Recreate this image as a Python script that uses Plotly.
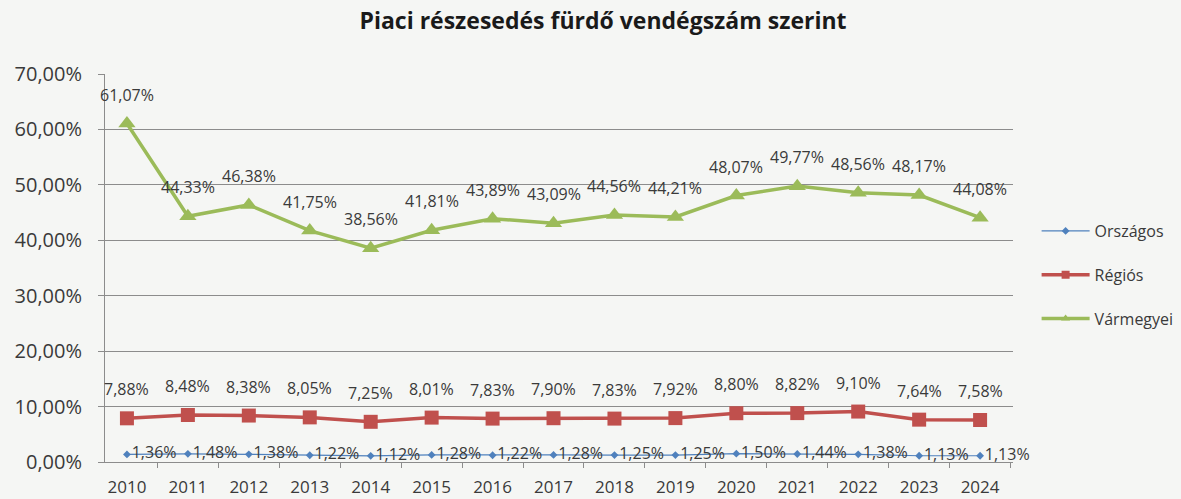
import plotly.graph_objects as go

years = ["2010", "2011", "2012", "2013", "2014", "2015", "2016", "2017",
         "2018", "2019", "2020", "2021", "2022", "2023", "2024"]
orszagos = [1.36, 1.48, 1.38, 1.22, 1.12, 1.28, 1.22, 1.28, 1.25, 1.25, 1.50, 1.44, 1.38, 1.13, 1.13]
regios = [7.88, 8.48, 8.38, 8.05, 7.25, 8.01, 7.83, 7.90, 7.83, 7.92, 8.80, 8.82, 9.10, 7.64, 7.58]
varmegyei = [61.07, 44.33, 46.38, 41.75, 38.56, 41.81, 43.89, 43.09, 44.56, 44.21, 48.07, 49.77, 48.56, 48.17, 44.08]
series_names = ["Országos", "Régiós", "Vármegyei"]

FONT = "'Open Sans', Lato, sans-serif"
TXT = "#3a3a3a"
BG = "#f5f6f4"
C_ORSZ = "#4f81bd"
C_REG = "#c0504d"
C_VAR = "#9bbb59"


def lab(vals):
    return [f"{v:.2f}%".replace(".", ",") for v in vals]


fig = go.Figure()
fig.add_trace(go.Scatter(
    x=years, y=[v / 100 for v in orszagos], name=series_names[0], showlegend=False,
    mode="lines+markers+text", text=lab(orszagos), textposition="middle right",
    textfont=dict(size=16, color=TXT, family=FONT),
    line=dict(color=C_ORSZ, width=1.2),
    marker=dict(symbol="diamond", size=6, color=C_ORSZ),
    cliponaxis=False, hoverinfo="skip",
))
fig.add_trace(go.Scatter(
    x=years, y=[v / 100 for v in regios], name=series_names[1], showlegend=False,
    mode="lines+markers",
    line=dict(color=C_REG, width=3.5),
    marker=dict(symbol="square", size=14, color=C_REG),
    cliponaxis=False, hoverinfo="skip",
))
fig.add_trace(go.Scatter(
    x=years, y=[v / 100 for v in varmegyei], name=series_names[2], showlegend=False,
    mode="lines+markers",
    line=dict(color=C_VAR, width=3.5),
    marker=dict(symbol="triangle-up", size=15, color=C_VAR),
    cliponaxis=False, hoverinfo="skip",
))

# legend entries with smaller symbols, as in the original legend
legend_styles = [
    (C_ORSZ, 1.2, "diamond", 6),
    (C_REG, 3.5, "square", 8),
    (C_VAR, 3.5, "triangle-up", 8),
]
for k, (name, (col, lw, sym, ms)) in enumerate(zip(series_names, legend_styles)):
    fig.add_trace(go.Scatter(
        x=[None], y=[None], name=name, legendgroup=f"g{k}", mode="lines+markers",
        line=dict(color=col, width=lw), marker=dict(symbol=sym, size=ms, color=col),
    ))

# data labels above the Régiós and Vármegyei points (x given as category index)
annotations = []
for series in (regios, varmegyei):
    for i, (v, t) in enumerate(zip(series, lab(series))):
        annotations.append(dict(x=i, y=v / 100, text=t, showarrow=False,
                                yshift=29, xref="x", yref="y",
                                font=dict(size=16, color=TXT, family=FONT)))

fig.update_layout(
    width=1181, height=499,
    margin=dict(l=105, r=168, t=74, b=37, autoexpand=False),
    paper_bgcolor=BG, plot_bgcolor=BG,
    separators=", ",
    font=dict(family=FONT, color=TXT, size=15),
    title=dict(text="<b>Piaci részesedés fürdő vendégszám szerint</b>",
               x=603 / 1181, xanchor="center", y=1 - 21 / 499, yanchor="middle",
               xref="container", yref="container",
               font=dict(size=23, color="#1a1a1a", family=FONT)),
    showlegend=True,
    legend=dict(x=1.026, xanchor="left", y=0.482, yanchor="middle",
                traceorder="grouped", tracegroupgap=20,
                font=dict(size=16, color=TXT, family=FONT),
                bgcolor="rgba(0,0,0,0)", itemwidth=48),
    annotations=annotations,
    xaxis=dict(type="category", range=[-0.36, 14.54], showgrid=False,
               showline=True, linecolor="#8c8c8c", linewidth=1,
               ticks="outside", tickson="boundaries", ticklen=5,
               tickcolor="#8c8c8c", ticklabelstandoff=10, automargin=False,
               tickfont=dict(size=17, color=TXT, family=FONT)),
    yaxis=dict(range=[0, 0.7], dtick=0.1, tickformat=".2%",
               showgrid=True, gridcolor="#8c8c8c", gridwidth=1,
               showline=True, linecolor="#8c8c8c", linewidth=1,
               ticks="outside", ticklen=6, tickcolor="#8c8c8c",
               zeroline=False, ticklabelstandoff=12, automargin=False,
               tickfont=dict(size=20, color=TXT, family=FONT)),
)

fig.write_html("out.html", config={"displayModeBar": False},
               post_script="document.body.style.margin='0';"
                           "document.body.style.background='" + BG + "';")
